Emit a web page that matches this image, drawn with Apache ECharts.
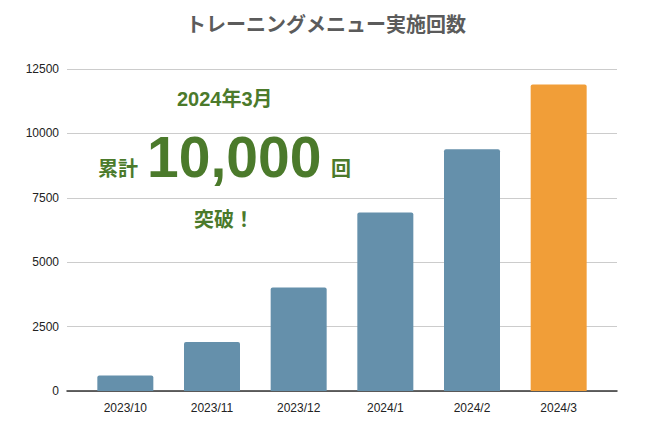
<!DOCTYPE html>
<html>
<head>
<meta charset="utf-8">
<title>トレーニングメニュー実施回数</title>
<script src="https://cdn.jsdelivr.net/npm/echarts@6/dist/echarts.min.js"></script>
<style>
  html, body { margin: 0; padding: 0; background: #fff; }
  #chart { width: 650px; height: 435px; }
</style>
</head>
<body>
<div id="chart"></div>
<script>
// 月ごとの実施回数（累計）
var months = ['2023/10', '2023/11', '2023/12', '2024/1', '2024/2', '2024/3'];
var counts = [600, 1900, 4020, 6930, 9380, 11900];
var yTicks = [0, 2500, 5000, 7500, 10000, 12500];
var highlightIndex = 5; // 2024/3 だけオレンジ

var blue = '#6590ab';
var orange = '#f19e38';
var green = '#4b7a2b';
var font = '"Liberation Sans", Arial, "Noto Sans CJK JP", sans-serif';

var barData = counts.map(function (v, i) {
    return {
        value: v,
        itemStyle: { color: i === highlightIndex ? orange : blue }
    };
});

var myChart = echarts.init(document.getElementById('chart'), null, { renderer: 'svg' });

option = {
    animation: false,
    title: {
        text: 'トレーニングメニュー実施回数',
        left: 321,
        top: 8,
        textAlign: 'center',
        textStyle: {
            fontFamily: '"Noto Sans CJK JP", sans-serif',
            fontSize: 20,
            fontWeight: 'bold',
            color: '#5b5b5b'
        }
    },
    // grid 0: 目盛り線と軸（横に広い）, grid 1: 棒グラフ
    grid: [
        { left: 67, right: 33, top: 69, bottom: 44 },
        { left: 82, right: 48, top: 69, bottom: 44 }
    ],
    xAxis: [
        {
            gridIndex: 0,
            type: 'category',
            data: months,
            axisLine: { lineStyle: { color: '#333', width: 1.5 } },
            axisTick: { show: false },
            axisLabel: { show: false }
        },
        {
            gridIndex: 1,
            type: 'category',
            data: months,
            axisLine: { show: false },
            axisTick: { show: false },
            axisLabel: {
                margin: 11,
                fontFamily: font,
                fontSize: 12,
                color: '#222'
            }
        }
    ],
    yAxis: [
        {
            gridIndex: 0,
            type: 'value',
            min: yTicks[0],
            max: yTicks[yTicks.length - 1],
            interval: yTicks[1] - yTicks[0],
            axisLine: { show: false },
            axisTick: { show: false },
            axisLabel: {
                margin: 8,
                fontFamily: font,
                fontSize: 12,
                color: '#222',
                formatter: function (v) { return String(v); }
            },
            splitLine: { lineStyle: { color: '#cccccc', width: 1 } }
        },
        {
            gridIndex: 1,
            type: 'value',
            min: yTicks[0],
            max: yTicks[yTicks.length - 1],
            interval: yTicks[1] - yTicks[0],
            show: false
        }
    ],
    series: [
        {
            type: 'bar',
            xAxisIndex: 1,
            yAxisIndex: 1,
            barWidth: 56,
            itemStyle: { borderRadius: [2, 2, 0, 0] },
            data: barData
        }
    ],
    graphic: [
        {
            type: 'text', left: 177, top: 89, z: 10,
            style: { text: '2024年3月', fill: green,
                font: 'bold 20px ' + font }
        },
        {
            type: 'text', left: 98, top: 157, z: 10,
            style: { text: '累計', fill: green,
                font: 'bold 20px "Noto Sans CJK JP", sans-serif' }
        },
        {
            type: 'text', left: 147, top: 128, z: 10,
            style: { text: '10,000', fill: green,
                font: 'bold 57px ' + font }
        },
        {
            type: 'text', left: 331, top: 157, z: 10,
            style: { text: '回', fill: green,
                font: 'bold 20px "Noto Sans CJK JP", sans-serif' }
        },
        {
            type: 'text', left: 194, top: 208, z: 10,
            style: { text: '突破！', fill: green,
                font: 'bold 20px "Noto Sans CJK JP", sans-serif' }
        }
    ]
};
myChart.setOption(option);
</script>
</body>
</html>
